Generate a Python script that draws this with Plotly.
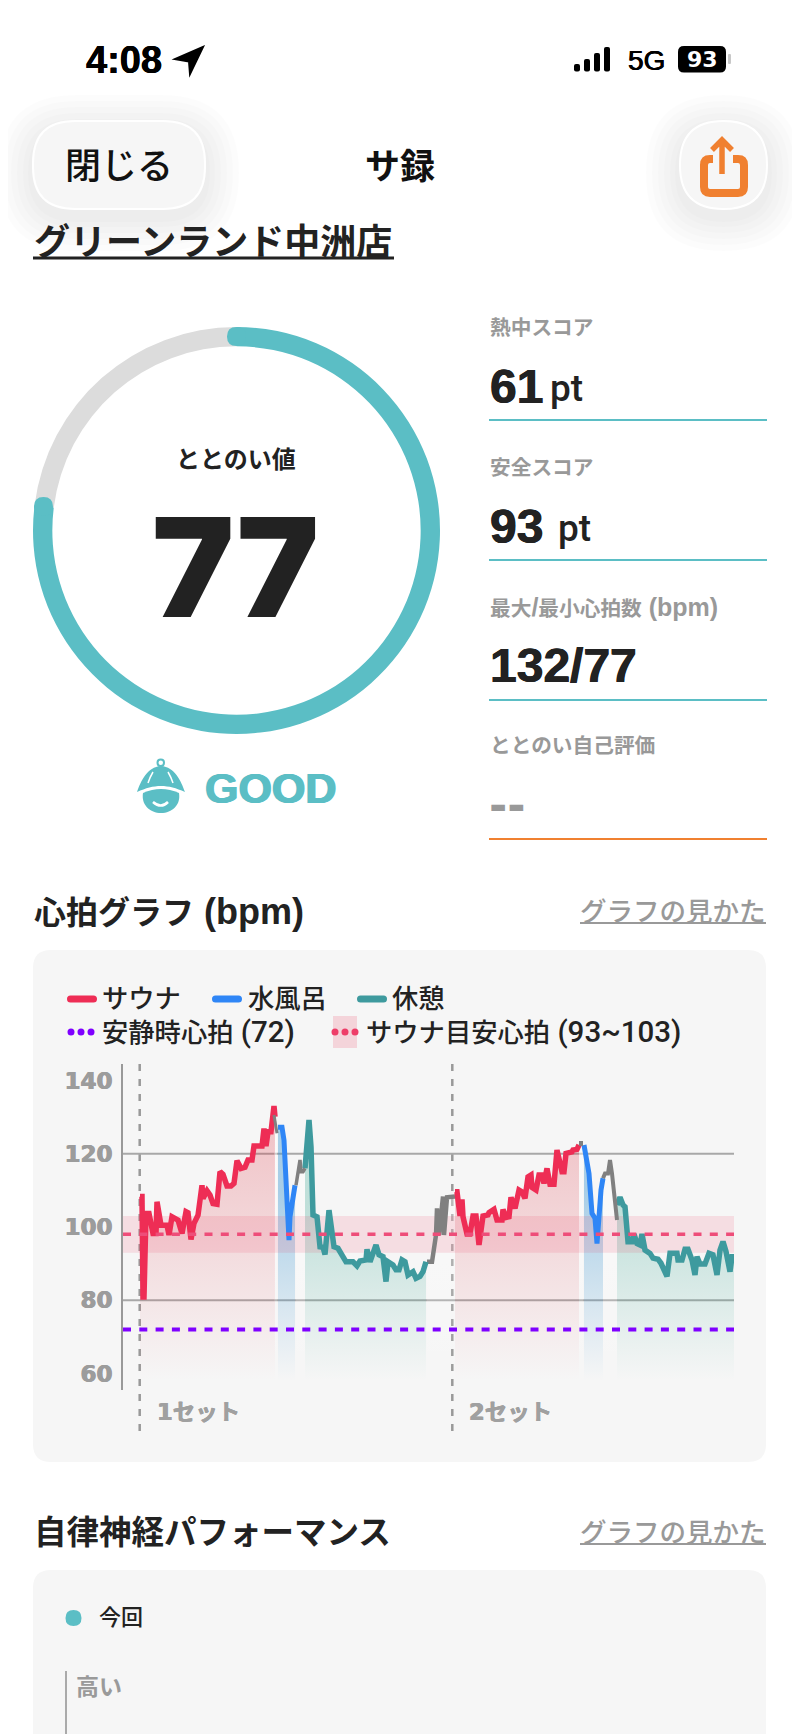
import re

import plotly.graph_objects as go

# heart rate segments: t = elapsed time units, bpm = heart rate
sauna1_t = [17, 19, 20, 21, 23, 26, 30, 33, 34, 38, 44, 46, 49, 52, 55, 59, 63, 65, 68, 71, 75, 79, 80, 84, 87, 90, 94, 97,
            100, 104, 108, 111, 114, 118, 122, 125, 129, 131, 139, 141, 143, 145, 148, 151, 152]
sauna1_bpm = [108.3, 108.3, 80.9, 80.9, 103.7, 103.7, 98.2, 98.2, 106.9, 100.5, 100.5, 97.8, 102.8, 102.3, 101.9, 98.2,
              104.2, 103.9, 96.6, 101, 103.2, 111.4, 107.8, 109.9, 108.7, 106.4, 106.2, 115.1, 114.4, 111.2, 111.2,
              111.9, 118.1, 116, 116.3, 118.3, 118.3, 122.1, 122.1, 126.9, 122.1, 126, 126, 133, 130.1]
move1a_t = [151, 154]
move1a_bpm = [130.6, 125.6]
bath1_t = [155, 159, 161, 162, 164, 166, 167, 170, 172]
bath1_bpm = [127.2, 127.2, 123.7, 118.3, 109.2, 96.4, 102.8, 108.7, 111.4]
move1b_t = [173, 175, 177, 178, 180, 182]
move1b_bpm = [111.4, 115.1, 118.3, 115.1, 115.1, 116]
rest1_t = [182, 184, 186, 188, 190, 194, 197, 200, 202, 206, 209, 211, 215, 219, 223, 230, 234, 237, 243, 244, 247, 250,
           253, 256, 260, 263, 265, 270, 273, 276, 279, 282, 285, 290, 293, 297, 300, 303]
rest1_bpm = [116, 121.9, 129.2, 121.9, 103.3, 102.8, 94.6, 94.5, 92.5, 104.6, 97.8, 94.6, 94.2, 92.4, 90.5, 90.5, 89.4,
             90.7, 91, 93.9, 90.5, 92.8, 95.1, 92.4, 91.9, 85.1, 90.5, 89.6, 88.3, 88.3, 91, 90.5, 86.9, 87.8, 86, 86.5,
             87.8, 90.5]
move2a_t = [304, 309, 313, 314, 316, 320, 321, 324, 332]
move2a_bpm = [90.5, 90.5, 97.8, 105.1, 97.8, 108.3, 97.8, 108.1, 108.3]
sauna2_t = [332, 334, 337, 339, 340, 344, 347, 350, 353, 356, 360, 365, 366, 371, 374, 379, 380, 383, 386, 388, 392, 396,
            399, 402, 405, 408, 409, 413, 416, 419, 421, 424, 427, 431, 434, 439, 441, 443, 449, 450, 454, 456]
sauna2_bpm = [109.6, 109.6, 103, 107.5, 102.8, 98.1, 98.1, 103, 103, 95.1, 103, 103.3, 103.9, 104.8, 101.9, 101.9,
              104.8, 102.6, 102.8, 108.1, 105.1, 110.1, 109.6, 107.8, 113.7, 114.2, 110.8, 110.1, 114.2, 114.2, 111.9,
              116, 111.7, 111.7, 121, 115.1, 115.1, 120.1, 120.5, 121, 121.2, 122.4]
move2b_t = [456, 460]
move2b_bpm = [122.8, 122.8]
bath2_t = [461, 464, 466, 469, 472, 474, 476, 478, 480]
bath2_bpm = [122.4, 116.5, 114.6, 103.7, 102.4, 95.5, 105.5, 110.1, 113.3]
move2c_t = [480, 482, 485, 487, 489, 491, 494]
move2c_bpm = [113.3, 114.6, 114.6, 118.3, 114.6, 108.3, 101.9]
rest2_t = [494, 497, 500, 502, 505, 509, 511, 514, 517, 519, 522, 527, 530, 535, 538, 544, 547, 554, 555, 559, 562, 565,
           569, 572, 574, 577, 582, 586, 590, 594, 597, 600, 603, 607, 609, 611]
rest2_bpm = [106, 108.1, 106, 105.5, 96, 96, 98.1, 95.5, 95.1, 98.1, 93.7, 92.8, 91.5, 91.2, 90.1, 86.5, 92.8, 92.8, 91,
             91, 93.9, 93.9, 91, 86.9, 91.9, 89.9, 89.9, 92.8, 92.4, 86.9, 93.7, 96, 93.3, 87.8, 91.9, 91.9]

y_ticks = [60, 80, 100, 120, 140]
grid_levels = [80, 120]
set_starts = [16.7, 329.3]
set_labels = ["1セット", "2セット"]
resting_hr = 72
target_low, target_high, target_mid = 93, 103, 98

gauge_value = [77, 23]

# the page body keeps its default 8px margin, so the figure starts at (8, 8)
W, H = 792, 1726
OFF = 8
LATIN = "Liberation Sans, Noto Sans CJK JP"
MEDIUM = "Roboto, Noto Sans CJK JP"
DARK = "#222222"
GREY = "#999999"
TEAL = "#5bbec5"
ORANGE = "#f08030"
RED = "#ee2d55"
BLUE = "#2f86f6"
GREEN = "#3e9a9e"
CARD = "#f6f6f6"


def px(x):
    return (x - OFF) / W


def py(y):
    return 1 - (y - OFF) / H


def rounded(x0, y0, x1, y1, r):
    return (f"M{x0 + r},{y0} L{x1 - r},{y0} Q{x1},{y0} {x1},{y0 + r} L{x1},{y1 - r} Q{x1},{y1} {x1 - r},{y1} "
            f"L{x0 + r},{y1} Q{x0},{y1} {x0},{y1 - r} L{x0},{y0 + r} Q{x0},{y0} {x0 + r},{y0} Z")


shapes = []
annotations = []


def shape_path(path, fill=None, line=None, width=0, layer="above"):
    # paths are written in page pixels (y down), paper refs want fractions
    paper = re.sub(r"(-?[\d.]+),(-?[\d.]+)", lambda m: f"{px(float(m[1])):.5f},{py(float(m[2])):.5f}", path)
    shapes.append(dict(type="path", path=paper, xref="paper", yref="paper", fillcolor=fill or "rgba(0,0,0,0)",
                       line=dict(color=line or "rgba(0,0,0,0)", width=width), layer=layer))


def heavy(color, amount):
    return f"{amount}px 0 0 {color}, -{amount}px 0 0 {color}"


def text(x, y, s, size, color=DARK, weight=700, anchor="left", family=LATIN, thick=0):
    font = dict(family=family, size=size, color=color, weight=weight)
    if thick:
        font["shadow"] = heavy(color, thick)
    annotations.append(dict(x=px(x), y=py(y), xref="paper", yref="paper", text=s, showarrow=False, xanchor=anchor,
                            yanchor="middle", borderpad=0, font=font))


def hline(x0, x1, y, color, width=2):
    shape_path(f"M{x0},{y} L{x1},{y}", line=color, width=width)


# cards
shape_path(rounded(33, 950, 766, 1462, 18), fill=CARD, layer="below")
shape_path(rounded(33, 1570, 766, 1780, 18), fill=CARD, layer="below")

# soft shadows behind the top buttons
for g in [34, 28, 22, 16, 10, 5]:
    shape_path(rounded(33 - g, 121 - g + 8, 205 + g, 209 + g + 8, 43 + g), fill="rgba(0,0,0,0.010)", layer="below")
    shape_path(rounded(680 - g, 121 - g + 8, 767 + g, 209 + g + 8, 43 + g), fill="rgba(0,0,0,0.010)", layer="below")
shape_path(rounded(33, 121, 205, 209, 42), fill="#f6f6f6", line="#ffffff", width=2, layer="below")
shape_path(rounded(680, 121, 767, 209, 43.5), fill="#f6f6f6", line="#ffffff", width=2, layer="below")

# status bar
text(85, 60, "4:08", 38, "#000000", family="Liberation Sans", thick=0.3)
shape_path("M203,47 L175,59 L189,61.5 L190,74 Z", fill="#000000", line="#000000", width=2)
for bx, top in zip([574, 584, 594, 604], [64, 59, 53, 47]):
    shape_path(rounded(bx, top, bx + 6, 71.5, 2), fill="#000000")
text(627, 60, "5G", 28, "#000000", weight=400, family="Liberation Sans", thick=0.4)
shape_path(rounded(678, 46, 726, 72.5, 6), fill="#000000")
shape_path(rounded(728, 54, 731, 64, 1), fill="#c8c8c8")
text(702, 59.5, "93", 22, "#ffffff", anchor="center", family="DejaVu Sans")

# header
text(119, 166, "閉じる", 36, "#111111", weight=500, anchor="center")
text(400, 166, "サ録", 35, "#111111", anchor="center")
shape_path("M713,159 L710,159 Q704,159 704,165 L704,187 Q704,193 710,193 L738,193 Q744,193 744,187 L744,165 "
           "Q744,159 738,159 L733,159", line=ORANGE, width=8)
shape_path("M722,174 L722,141 M712,150 L722,140 L732,150", line=ORANGE, width=5.5)
text(33, 242, "グリーンランド中洲店", 36)
hline(33, 394, 258, DARK, 3)

# gauge text and mascot
text(236, 460, "ととのい値", 24, anchor="center")
text(235, 566, "77", 138, weight=900, anchor="center", family="Inter")
shape_path("M161,766 C147,767 141,781 137,792 C146,788 153,786 161,786 C169,786 176,788 185,792 C181,781 175,767 161,766 Z",
           fill=TEAL)
shape_path("M143,793 Q152,789 161,789 Q170,789 179,793 C181,805 172,813 161,813 C150,813 141,805 143,793 Z", fill=TEAL)
shape_path("M153,802 Q161,809 168,802", line="#ffffff", width=2.5)
shape_path("M148,783 Q150,777 153,772 M173,783 Q171,777 168,772", line="#ffffff", width=1.5)
shape_path(rounded(157.5, 759.5, 164, 766, 3.2), line=TEAL, width=2)
text(204, 788, "GOOD", 43, TEAL, thick=0.8)

# score column
for label, value, unit, unit_x, label_y, value_y, line_y in [
    ("熱中スコア", "61", "pt", 549, 327, 386, 420),
    ("安全スコア", "93", "pt", 557, 467, 526, 560),
    ("最大<span style='font-size:25px'>/</span>最小心拍数<span style='font-size:25px'> (bpm)</span>",
     "132/77", "", 0, 607, 665, 700),
]:
    text(489, label_y, label, 20.7, GREY)
    text(489, value_y, value, 48, thick=0.5)
    if unit:
        text(unit_x, value_y + 2, unit, 37, family=MEDIUM, weight=500)
    hline(489, 767, line_y, TEAL, 2)
text(489, 746, "ととのい自己評価", 20.7, GREY)
text(488, 806, "--", 44, GREY, family="DejaVu Sans")
hline(489, 767, 839, ORANGE, 2)

# section titles
text(33, 912, "心拍グラフ<span style='font-size:36px'> (bpm)</span>", 32)
for y in [912, 1533]:
    text(767, y, "グラフの見かた", 26.5, GREY, weight=500, anchor="right")
    hline(580, 766, y + 11, GREY, 2)
text(33, 1533, "自律神経パフォーマンス", 32.5)

# chart legend
legend_size = 26.3
for x0, color, label, lx in [(69, RED, "サウナ", 101), (214, BLUE, "水風呂", 247), (359, GREEN, "休憩", 391)]:
    shape_path(rounded(x0 - 2, 995.5, x0 + 28, 1002.5, 3.5), fill=color)
    text(lx, 999, label, legend_size, weight=500, family=MEDIUM)
shape_path(rounded(333, 1016, 357, 1048, 0), fill="rgba(238,45,85,0.17)", layer="below")
for x0, color in [(71, "#7f00ff"), (335, "#ee3d68")]:
    for k in range(3):
        cx = x0 + k * 10
        shape_path(rounded(cx - 3.5, 1028.5, cx + 3.5, 1035.5, 3.5), fill=color)
text(101, 1032, "安静時心拍<span style='font-size:29.5px'> (72)</span>", legend_size, weight=500, family=MEDIUM)
text(365, 1032, "サウナ目安心拍<span style='font-size:29.5px'> (93~103)</span>", legend_size, weight=500, family=MEDIUM)

# last card
shape_path(rounded(65.5, 1610, 81.5, 1626, 8), fill=TEAL)
text(98, 1617, "今回", 22, weight=500)
shape_path("M66,1671 L66,1734", line="#aaaaaa", width=2)
text(75, 1687, "高い", 23, "#9a9a9a")

# chart reference lines and set labels
for level in grid_levels:
    shapes.append(dict(type="line", xref="x", yref="y", x0=0, x1=611, y0=level, y1=level,
                       line=dict(color="#a8a8a8", width=2), layer="below"))
for start, label in zip(set_starts, set_labels):
    shapes.append(dict(type="line", xref="x", yref="paper", x0=start, x1=start, y0=py(1431), y1=py(1064),
                       line=dict(color="#999999", width=2.5, dash="7px,8px"), layer="below"))
    annotations.append(dict(x=start + 16, y=py(1412), xref="x", yref="paper", text=label, showarrow=False, xanchor="left",
                            yanchor="middle", borderpad=0,
                            font=dict(family="DejaVu Sans, Noto Sans CJK JP", size=22.5, color="#a0a0a0", weight=700,
                                      shadow=heavy("#a0a0a0", 0.4))))
for level, color in [(target_mid, "#ee4d79"), (resting_hr, "#7f00ff")]:
    shapes.append(dict(type="line", xref="x", yref="y", x0=0, x1=611, y0=level, y1=level,
                       line=dict(color=color, width=4 if color == "#7f00ff" else 3.5, dash="8px,8.3px")))

fig = go.Figure()

# gauge
fig.add_trace(go.Pie(values=gauge_value, hole=0.905, sort=False, direction="clockwise", rotation=0,
                     domain=dict(x=[px(33), px(440)], y=[py(734), py(327)]), textinfo="none", hoverinfo="skip",
                     showlegend=False, marker=dict(colors=[TEAL, "#dcdcdc"], line=dict(width=0))))
# round ends of the ring
shape_path(rounded(227, 327, 246, 346, 9.5), fill=TEAL)
shape_path(rounded(34, 497, 53, 516, 9.5), fill=TEAL)


def fade(rgb, alpha):
    return [[0, f"rgba({rgb},0)"], [1, f"rgba({rgb},{alpha})"]]


def area(t, bpm, rgb, alpha, top=125):
    fig.add_trace(go.Scatter(x=t, y=bpm, mode="none", fill="tozeroy", showlegend=False, hoverinfo="skip",
                             fillgradient=dict(type="vertical", start=58, stop=top, colorscale=fade(rgb, alpha))))


def line(t, bpm, color, width):
    fig.add_trace(go.Scatter(x=t, y=bpm, mode="lines", line=dict(color=color, width=width), showlegend=False,
                             hoverinfo="skip"))


# fills sit under the target band, the heart rate lines on top of it
for t, bpm in [(move1a_t, move1a_bpm), (move1b_t, move1b_bpm), (move2a_t, move2a_bpm), (move2b_t, move2b_bpm),
               (move2c_t, move2c_bpm)]:
    area(t, bpm, "255,255,255", 0.45)
area(sauna1_t, sauna1_bpm, "225,55,70", 0.26)
area(sauna2_t, sauna2_bpm, "225,55,70", 0.26)
area(bath1_t, bath1_bpm, "60,150,210", 0.42, 110)
area(bath2_t, bath2_bpm, "60,150,210", 0.42, 110)
area(rest1_t, rest1_bpm, "62,170,150", 0.3, 105)
area(rest2_t, rest2_bpm, "62,170,150", 0.3, 105)

fig.add_trace(go.Scatter(x=[0, 611, 611, 0], y=[target_low, target_low, target_high, target_high], mode="none",
                         fill="toself", fillcolor="rgba(238,45,85,0.12)", showlegend=False, hoverinfo="skip"))

line(move2a_t, move2a_bpm, "#808080", 4.5)
line(sauna1_t, sauna1_bpm, RED, 5.5)
line(sauna2_t, sauna2_bpm, RED, 5.5)
line(bath1_t, bath1_bpm, BLUE, 5)
line(bath2_t, bath2_bpm, BLUE, 5)
line(rest1_t, rest1_bpm, GREEN, 5.5)
line(rest2_t, rest2_bpm, GREEN, 5.5)
line(move1a_t, move1a_bpm, "#808080", 3)
line(move1b_t, move1b_bpm, "#808080", 3.5)
line(move2b_t, move2b_bpm, "#808080", 5)
line(move2c_t, move2c_bpm, "#808080", 4)

fig.update_layout(
    width=W, height=H, margin=dict(l=0, r=0, t=0, b=0), paper_bgcolor="#ffffff", plot_bgcolor="rgba(0,0,0,0)",
    showlegend=False, shapes=shapes, annotations=annotations,
    xaxis=dict(domain=[px(123), px(734)], range=[0, 611], visible=False, fixedrange=True),
    yaxis=dict(domain=[py(1390), py(1064)], range=[55.5, 144.5], tickvals=y_ticks, ticks="", showgrid=False,
               zeroline=False, showline=True, linecolor="#999999", linewidth=2, ticklabelstandoff=4,
               tickfont=dict(family="DejaVu Sans", size=23, color="#9c9c9c", weight=700,
                             shadow=heavy("#9c9c9c", 0.5)), fixedrange=True),
)

fig.write_html("out.html", config=dict(displayModeBar=False))
